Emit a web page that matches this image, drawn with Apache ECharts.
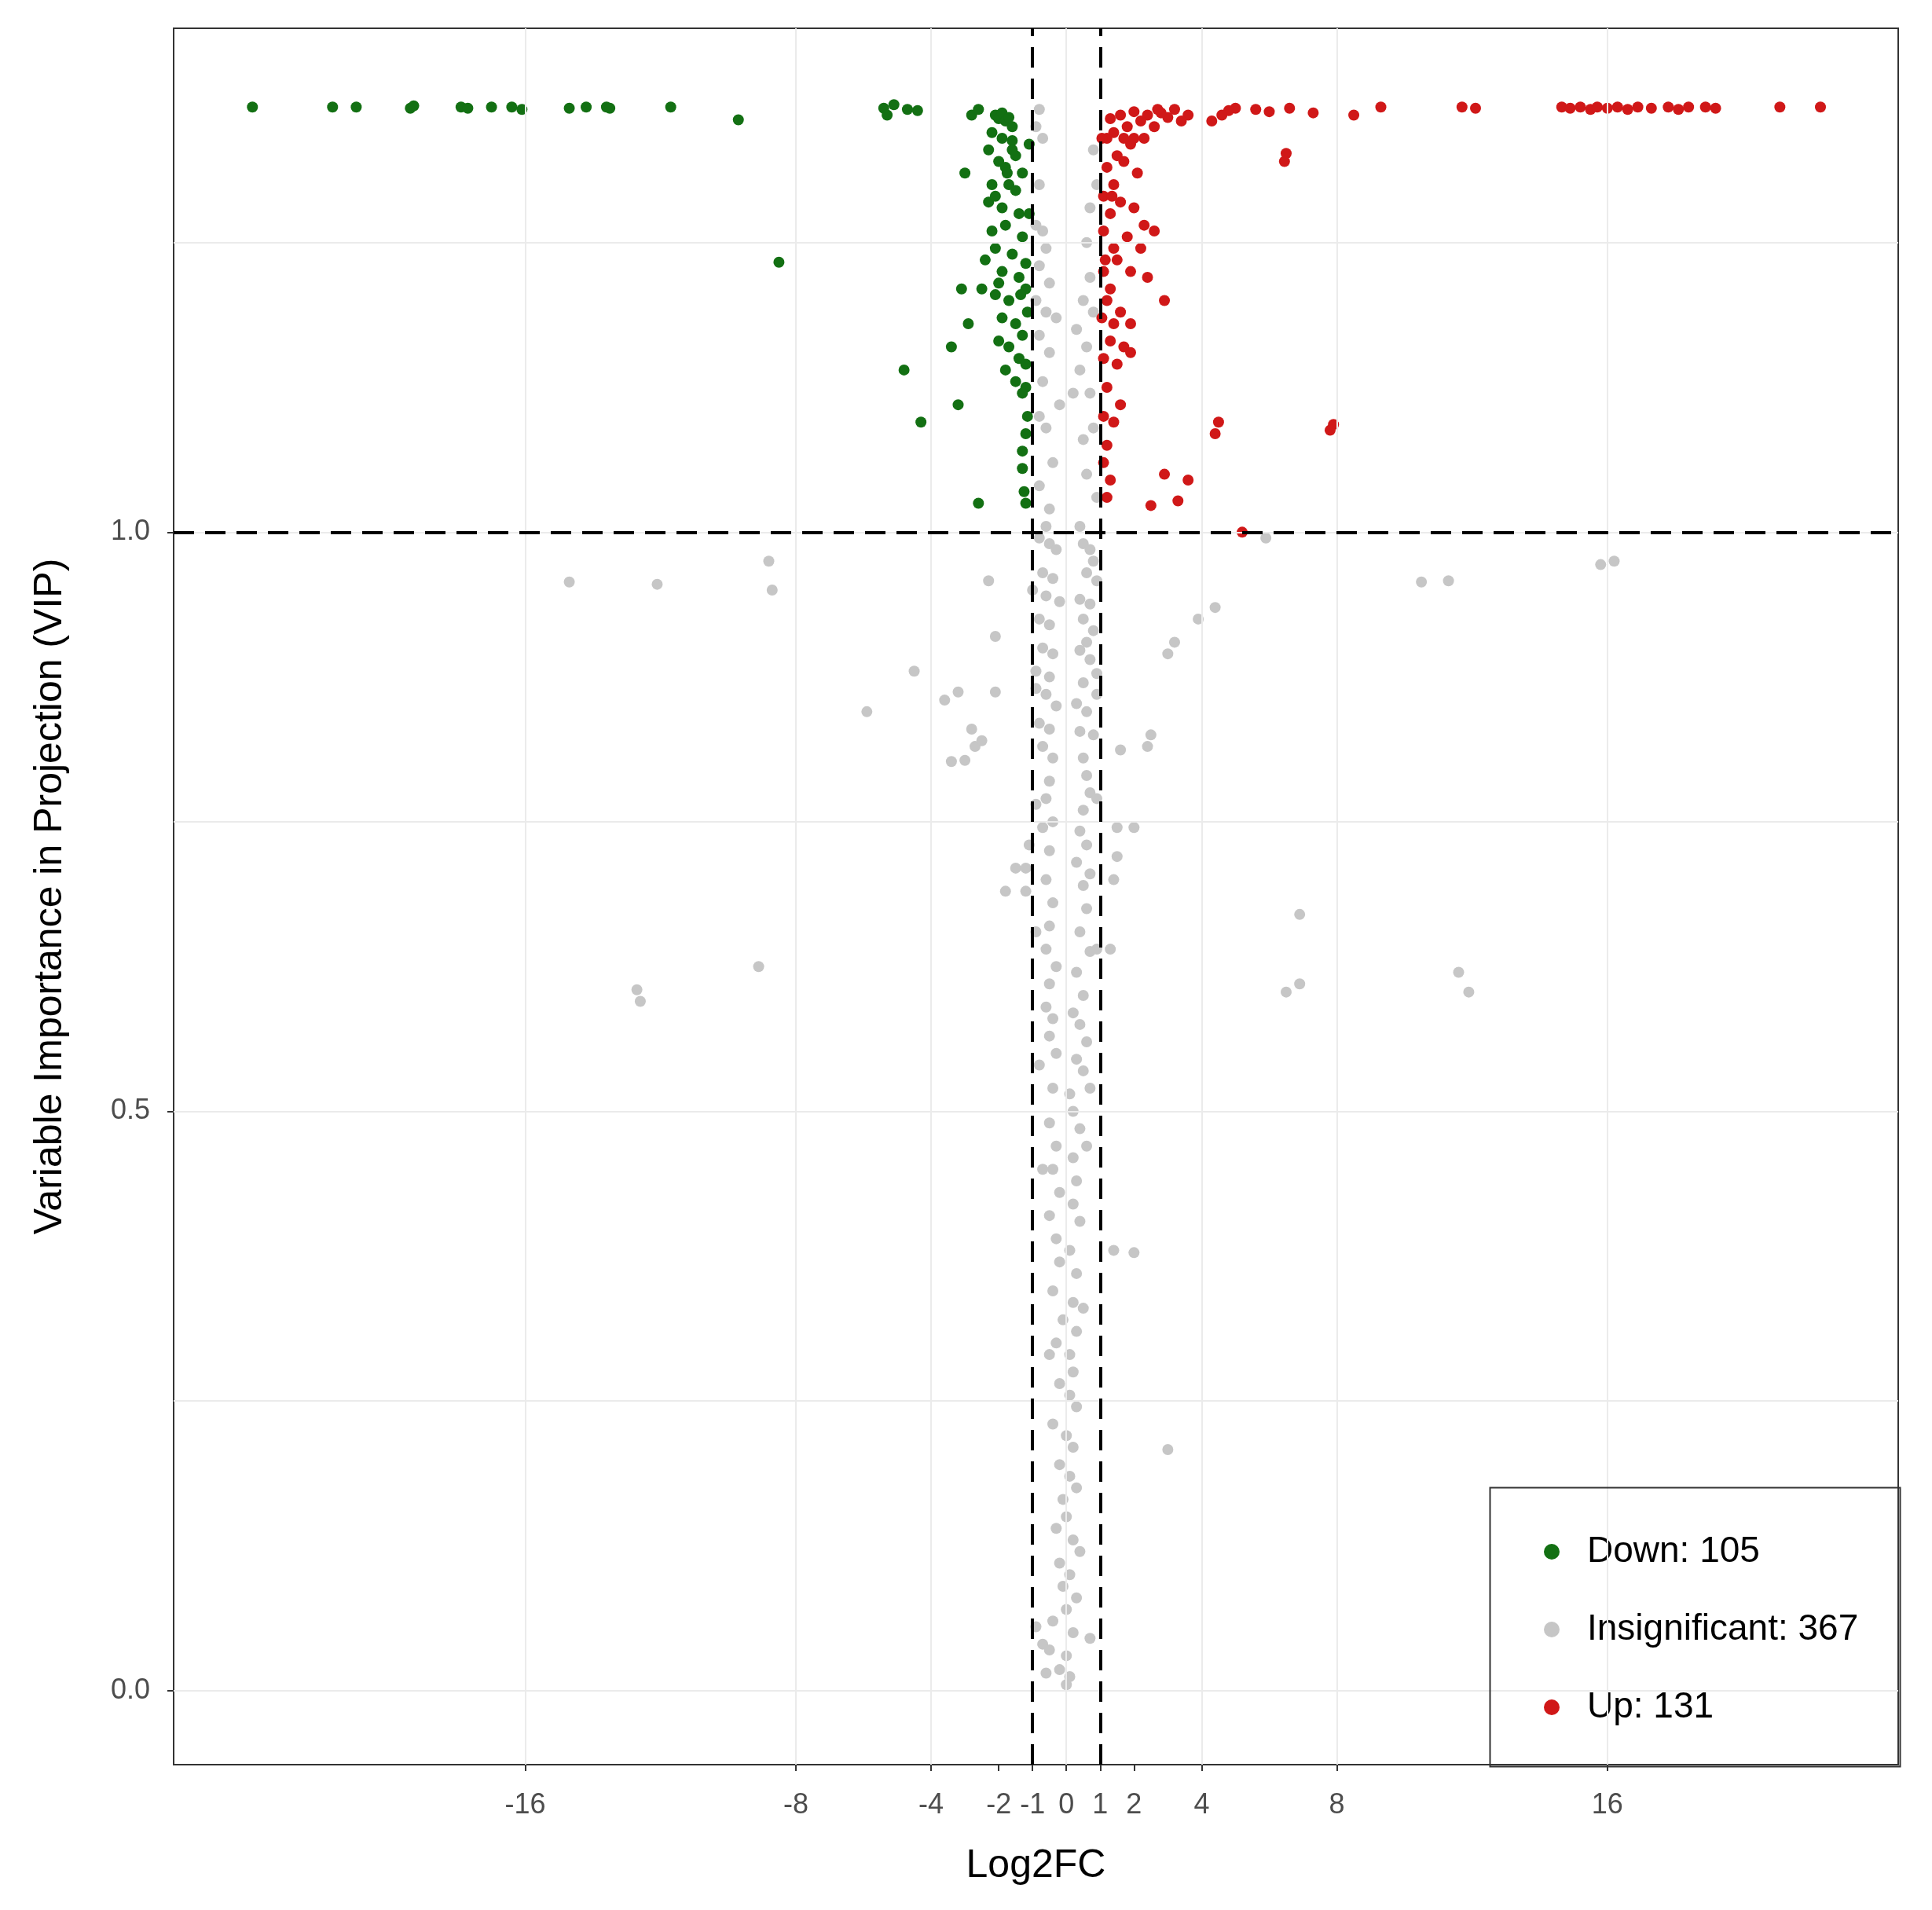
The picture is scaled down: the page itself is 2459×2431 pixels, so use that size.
<!DOCTYPE html>
<html><head><meta charset="utf-8">
<script src="https://cdn.jsdelivr.net/npm/echarts@6/dist/echarts.min.js"></script>
<style>html,body{margin:0;padding:0;background:#fff}#c{width:2459px;height:2431px}</style>
</head><body><div id="c"></div>
<script>
var xTickValues = [-16,-8,-4,-2,-1,0,1,2,4,8,16];
var yTickValues = [0,0.5,1.0];
var downPoints = [
[-24.07,1.367],[-21.7,1.367],[-21.0,1.367],[-19.4,1.366],[-19.3,1.368],[-17.9,1.367],[-17.7,1.366],[-17.0,1.367],[-16.4,1.367],[-16.1,1.365],[-14.7,1.366],[-14.2,1.367],[-13.6,1.367],[-13.5,1.366],[-11.7,1.367],[-9.7,1.356],
[-5.4,1.366],[-5.3,1.360],[-5.1,1.369],[-4.7,1.365],[-4.4,1.364],[-8.5,1.233],[-4.8,1.14],[-4.3,1.095],[-3.2,1.11],[-3.4,1.16],[-2.6,1.025],[-2.9,1.18],[-3.1,1.21],[-3.0,1.31],
[-2.8,1.36],[-2.6,1.365],[-2.1,1.36],[-2.0,1.357],[-1.9,1.362],[-1.8,1.355],[-1.7,1.358],[-1.6,1.35],[-2.2,1.345],[-1.9,1.34],[-1.6,1.338],[-2.3,1.33],[-1.5,1.325],[-2.0,1.32],[-1.8,1.315],[-1.3,1.31],[-2.2,1.30],[-1.7,1.30],[-1.5,1.295],
[-2.3,1.285],[-1.9,1.28],[-1.4,1.275],[-2.2,1.26],[-1.8,1.265],[-1.3,1.255],[-2.1,1.245],[-1.6,1.24],[-1.2,1.232],[-2.4,1.235],[-1.9,1.225],[-1.4,1.22],[-1.2,1.21],[-2.1,1.205],[-1.7,1.2],
[-2.5,1.21],[-1.9,1.185],[-1.5,1.18],[-1.3,1.17],[-2.0,1.165],[-1.7,1.16],[-1.4,1.15],[-1.2,1.145],[-1.8,1.14],[-1.5,1.13],[-1.2,1.125],[-1.3,1.07],[-1.2,1.085],[-1.3,1.055],[-1.25,1.035],[-1.2,1.025],[-1.3,1.12],[-1.15,1.10],
[-1.6,1.33],[-2.1,1.29],[-2.0,1.215],[-1.1,1.335],[-1.1,1.275],[-1.15,1.19],[-1.35,1.205],[-1.75,1.31]
];
var insignificantPoints = [
[-14.7,0.957],[-12.1,0.955],[-8.8,0.975],[-8.7,0.950],[-12.7,0.605],[-12.6,0.595],[-9.1,0.625],[-5.9,0.845],[-4.5,0.880],[-3.6,0.855],[-3.2,0.862],[-2.7,0.815],[-2.8,0.830],[-2.5,0.820],[-3.4,0.802],[-3.0,0.803],[-2.3,0.958],[-2.1,0.910],[-2.1,0.862],
[-1.8,0.690],[-1.5,0.710],[-1.2,0.690],[-1.2,0.710],[-1.1,0.730],
[15.8,0.972],[16.2,0.975],[10.5,0.957],[11.3,0.958],[11.6,0.620],[11.9,0.603],[6.5,0.603],[6.9,0.610],[6.9,0.670],[4.4,0.935],[3.9,0.925],[3.2,0.905],[3.0,0.895],[2.4,0.815],[2.5,0.825],[1.6,0.812],[1.5,0.745],[2.0,0.745],[1.4,0.700],[1.5,0.720],[1.3,0.640],[1.4,0.380],[2.0,0.378],[3.0,0.208],[5.9,0.995],
[-0.8,1.365],[-0.9,1.35],[-0.7,1.34],[-0.8,1.30],[-0.7,1.26],[-0.8,1.23],[-0.6,1.245],[-0.9,1.20],[-0.6,1.19],[-0.8,1.17],[-0.5,1.155],[-0.7,1.13],[-0.8,1.10],[-0.6,1.09],[-0.4,1.06],[-0.8,1.04],[-0.5,1.02],
[0.6,1.25],[0.7,1.22],[0.5,1.20],[0.8,1.19],[0.6,1.16],[0.4,1.14],[0.7,1.12],[0.8,1.09],[0.5,1.08],[0.6,1.05],[0.9,1.03],[0.8,1.33],[0.9,1.30],[0.7,1.28],
[-0.8,0.995],[-0.5,0.990],[-0.3,0.985],[0.5,0.990],[0.7,0.985],[0.8,0.975],[-0.7,0.965],[-0.4,0.960],[0.6,0.965],[0.9,0.958],[-1.0,0.950],[-0.6,0.945],[-0.2,0.940],[0.4,0.942],[0.7,0.938],[-0.8,0.925],[-0.5,0.920],[0.5,0.925],[0.8,0.915],[0.6,0.905],
[-0.7,0.900],[-0.4,0.895],[0.4,0.898],[0.7,0.890],[-0.9,0.880],[-0.5,0.875],[0.9,0.878],[0.5,0.870],[-0.6,0.860],[-0.3,0.850],[0.3,0.852],[0.6,0.845],[-0.8,0.835],[-0.5,0.830],[0.4,0.828],[0.8,0.825],[-0.7,0.815],[-0.4,0.805],[0.5,0.805],[0.6,0.790],
[-0.5,0.785],[-0.6,0.770],[0.7,0.775],[0.5,0.760],[-0.4,0.750],[-0.7,0.745],[0.4,0.742],[0.6,0.730],[-0.5,0.725],[0.3,0.715],[0.7,0.705],[-0.6,0.700],[0.5,0.695],[-0.4,0.680],[0.6,0.675],[-0.5,0.660],[0.4,0.655],[-0.6,0.640],[0.7,0.638],[-0.3,0.625],[0.3,0.620],[-0.5,0.610],[0.5,0.600],
[-0.6,0.590],[-0.4,0.580],[0.2,0.585],[0.4,0.575],[-0.5,0.565],[0.6,0.560],[-0.3,0.550],[0.3,0.545],[0.5,0.535],[-0.4,0.520],[0.1,0.515],[0.2,0.500],[-0.5,0.490],[0.4,0.485],[-0.3,0.470],[0.2,0.460],[-0.4,0.450],[0.3,0.440],[-0.2,0.430],[0.2,0.420],[-0.5,0.410],[0.4,0.405],
[-0.3,0.390],[0.1,0.380],[-0.2,0.370],[0.3,0.360],[-0.4,0.345],[0.2,0.335],[-0.1,0.320],[0.3,0.310],[-0.3,0.300],[0.1,0.290],[0.2,0.275],[-0.2,0.265],[0.1,0.255],[0.3,0.245],[-0.4,0.230],[0.0,0.220],[0.2,0.210],[-0.2,0.195],[0.1,0.185],[0.3,0.175],[-0.1,0.165],[0.0,0.150],
[-0.3,0.140],[0.2,0.130],[0.4,0.120],[-0.2,0.110],[0.1,0.100],[-0.1,0.090],[0.3,0.080],[0.0,0.070],[-0.4,0.060],[0.2,0.050],[-0.9,0.055],[-0.7,0.040],[0.7,0.045],[-0.5,0.035],[0.0,0.030],[-0.2,0.018],[0.1,0.012],[-0.6,0.015],[0.0,0.005],
[-0.9,1.265],[-0.5,1.215],[-0.3,1.185],[0.3,1.175],[0.2,1.12],[-0.2,1.11],[-0.6,1.005],[0.4,1.005],[-0.9,0.865],[0.9,0.860],[-0.9,0.765],[0.9,0.770],[-0.9,0.655],[0.9,0.640],[-0.8,0.540],[0.7,0.520],[-0.7,0.450],[0.6,0.470],[0.5,0.330],[-0.5,0.290]
];
var upPoints = [
[9.3,1.367],[11.7,1.367],[12.1,1.366],[14.65,1.367],[14.9,1.366],[15.2,1.367],[15.5,1.365],[15.7,1.367],[16.0,1.366],[16.3,1.367],[16.6,1.365],[16.9,1.367],[17.3,1.366],[17.8,1.367],[18.1,1.365],[18.4,1.367],[18.9,1.367],[19.2,1.366],[21.1,1.367],[22.3,1.367],
[8.5,1.360],[7.3,1.362],[6.6,1.366],[6.0,1.363],[5.6,1.365],[5.0,1.366],[4.8,1.364],[4.6,1.360],[4.3,1.355],[6.5,1.327],[6.45,1.320],[4.5,1.095],[4.4,1.085],[7.9,1.093],[7.8,1.088],[2.9,1.05],[3.6,1.045],[2.5,1.023],[3.3,1.027],[5.2,1.0],[2.9,1.2],[2.4,1.22],
[3.6,1.36],[3.4,1.355],[3.2,1.365],[3.0,1.358],[2.8,1.362],[2.6,1.35],[2.4,1.36],[2.2,1.355],[2.0,1.363],[1.8,1.35],[1.6,1.36],[1.4,1.345],[1.3,1.357],[1.2,1.34],[1.9,1.335],[2.3,1.34],[1.5,1.325],[1.7,1.32],[1.2,1.315],[2.1,1.31],[1.4,1.30],
[1.6,1.285],[2.0,1.28],[1.3,1.275],[2.3,1.265],[1.1,1.26],[1.8,1.255],[2.6,1.26],[1.4,1.245],[2.2,1.245],[1.5,1.235],[1.1,1.225],[1.9,1.225],[1.3,1.21],[1.2,1.20],[1.6,1.19],[1.4,1.18],[1.3,1.165],[1.7,1.16],[1.9,1.155],[1.5,1.145],[1.9,1.18],
[1.2,1.125],[1.6,1.11],[1.4,1.095],[1.2,1.075],[1.1,1.06],[1.3,1.045],[1.2,1.03],[1.1,1.10],[1.05,1.34],[1.1,1.29],[1.15,1.235],[1.05,1.185],[1.1,1.15],[2.0,1.34],[2.7,1.365],[1.7,1.34],[1.35,1.29]
];
var GRID_X = [-16,-8,-4,0,4,8,16];
var GRID_Y = [0,0.25,0.5,0.75,1.0,1.25];
var chart = echarts.init(document.getElementById('c'));
chart.setOption({
  animation:false,
  backgroundColor:'#fff',
  grid:{left:221,right:43,top:36,bottom:185,show:true,borderColor:'#333',borderWidth:2},
  xAxis:{type:'value',min:-26.4,max:24.6,
    axisLine:{show:false,onZero:false},splitLine:{show:false},
    axisTick:{show:true,customValues:xTickValues,length:8,lineStyle:{color:'#333',width:2}},
    axisLabel:{customValues:xTickValues,fontSize:36,color:'#4d4d4d',margin:34,fontFamily:'Liberation Sans'},
    name:'Log2FC',nameLocation:'middle',nameGap:104,nameTextStyle:{fontSize:50,color:'#000',fontFamily:'Liberation Sans'}},
  yAxis:{type:'value',min:-0.064,max:1.435,
    axisLine:{show:false,onZero:false},splitLine:{show:false},
    axisTick:{show:true,customValues:yTickValues,length:8,lineStyle:{color:'#333',width:2}},
    axisLabel:{customValues:yTickValues,fontSize:36,color:'#4d4d4d',margin:30,fontFamily:'Liberation Sans',formatter:function(v){return v.toFixed(1);}},
    name:'Variable Importance in Projection (VIP)',nameLocation:'middle',nameGap:132,nameTextStyle:{fontSize:50,color:'#000',fontFamily:'Liberation Sans'}},
  legend:{orient:'vertical',left:1960,top:1947,itemGap:53,itemWidth:20,itemHeight:20,
    textStyle:{fontSize:46,color:'#000',fontFamily:'Liberation Sans',padding:[0,0,0,30]},
    data:[{name:'Down: 105',icon:'circle'},{name:'Insignificant: 367',icon:'circle'},{name:'Up: 131',icon:'circle'}]},
  graphic:[{type:'rect',left:1894,top:1891,shape:{width:522,height:355},style:{fill:'none',stroke:'#333',lineWidth:2},z:100}],
  series:[
    {type:'scatter',name:'grid',data:[],silent:true,
      markLine:{silent:true,symbol:'none',label:{show:false},lineStyle:{color:'#ebebeb',width:2,type:'solid'},
        data:GRID_X.map(function(v){return {xAxis:v};}).concat(GRID_Y.map(function(v){return {yAxis:v};}))},z:0},
    {type:'scatter',name:'Insignificant: 367',data:insignificantPoints,symbolSize:14,itemStyle:{color:'#c6c6c6',opacity:1},z:2},
    {type:'scatter',name:'Down: 105',data:downPoints,symbolSize:14,itemStyle:{color:'#137013',opacity:1},z:3},
    {type:'scatter',name:'Up: 131',data:upPoints,symbolSize:14,itemStyle:{color:'#d01818',opacity:1},z:3},
    {type:'scatter',name:'lines',data:[],silent:true,z:10,
      markLine:{silent:true,symbol:'none',label:{show:false},lineStyle:{color:'#000',width:4,type:[26,14]},
        data:[{xAxis:-1},{xAxis:1},{yAxis:1.0}]}}
  ]
});
</script></body></html>
